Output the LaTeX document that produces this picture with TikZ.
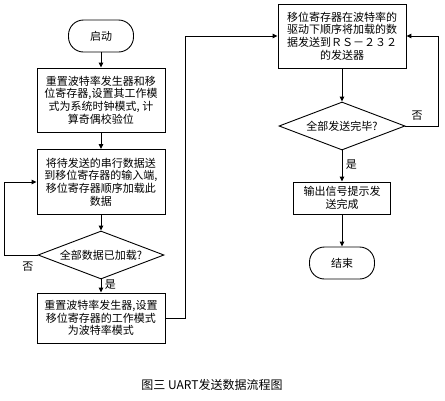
\documentclass[tikz,border=0pt]{standalone}
\usepackage{fontspec}
\newfontfamily\cjk{Noto Sans CJK SC}
\usetikzlibrary{arrows.meta,shapes.geometric,positioning}

\begin{document}
\begin{tikzpicture}[x=1pt, y=-1pt, > = {Triangle[length=5pt,width=4.5pt]},
    proc/.style = {draw, line width=0.9pt, align=center, minimum width=128pt, inner sep=1pt, font=\cjk\fontsize{11}{12.6}\selectfont},
    term/.style = {draw, line width=0.9pt, rounded corners=15pt, minimum width=65pt, minimum height=32pt, font=\cjk\fontsize{11}{12.6}\selectfont},
    decide/.style = {draw, diamond, aspect=2.6, line width=0.9pt, inner sep=0pt, minimum width=126pt, minimum height=48pt, font=\cjk\fontsize{11}{12.6}\selectfont},
    flow/.style = {line width=1pt, ->},
    lbl/.style = {font=\cjk\fontsize{11}{12.6}\selectfont}]

    \useasboundingbox (0,0) rectangle (445,400);

    % left column
    \node[term] (start) at (101,36) {启动};
    \node[proc, minimum height=64pt] (reset) at (101,100) {重置波特率发生器和移\\位寄存器,设置其工作模\\式为系统时钟模式, 计\\算奇偶校验位};
    \node[proc, minimum height=65pt] (load) at (101,182) {将待发送的串行数据送\\到移位寄存器的输入端,\\移位寄存器顺序加载此\\数据};
    \node[decide] (loaded) at (101,255) {全部数据已加载?};
    \node[proc, minimum height=50pt] (baud) at (101,318) {重置波特率发生器,设置\\移位寄存器的工作模式\\为波特率模式};

    % right column
    \node[proc, minimum height=64pt] (shift) at (342,36) {移位寄存器在波特率的\\驱动下顺序将加载的数\\据发送到ＲＳ－２３２\\的发送器};
    \node[decide] (sent) at (342,126) {全部发送完毕?};
    \node[proc, minimum width=97pt, minimum height=32pt] (done) at (342,198) {输出信号提示发\\送完成};
    \node[term] (stop) at (342,263) {结束};

    % arrows
    \draw[flow] (start) -- (reset);
    \draw[flow] (reset) -- (load);
    \draw[flow] (load) -- (loaded);
    \draw[flow] (loaded) -- node[lbl, right, pos=0.4] (yes1) {是} (baud);
    \draw[flow] (loaded.west) -- ++(-33,0) node[lbl, below right=3pt and 14pt] (no1) {否} |- (load.west);
    \draw[flow] (baud.east) -- ++(20,0) |- (shift.west);
    \draw[flow] (shift) -- (sent);
    \draw[flow] (sent.east) -- ++(33,0) node[lbl, above left=2pt and 12pt] (no2) {否} |- (shift.east);
    \draw[flow] (sent) -- node[lbl, right, pos=0.45] (yes2) {是} (done);
    \draw[flow] (done) -- (stop);

    % caption
    \node[font=\cjk\fontsize{12}{14}\selectfont] (cap) at (212,385) {图三 UART发送数据流程图};

\end{tikzpicture}
\end{document}
